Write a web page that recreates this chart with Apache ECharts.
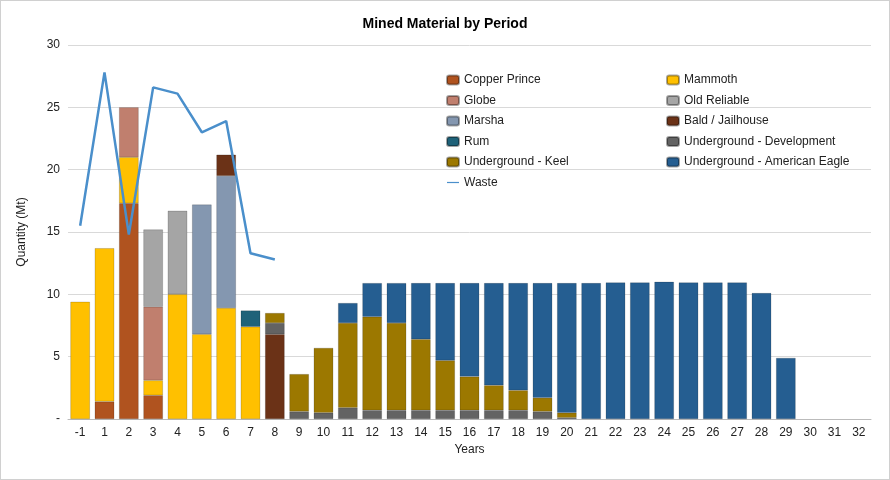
<!DOCTYPE html>
<html><head><meta charset="utf-8">
<script src="https://cdn.jsdelivr.net/npm/echarts@6/dist/echarts.min.js"></script>
<style>html,body{margin:0;padding:0;background:#fff}#c{width:888px;height:478px;border:1px solid #d0d0d0}</style>
</head><body><div id="c"></div>
<script>
const categories=['-1','1','2','3','4','5','6','7','8','9','10','11','12','13','14','15','16','17','18','19','20','21','22','23','24','25','26','27','28','29','30','31','32'];
const copperPrince=[0,1.4,17.3,1.9,0,0,0,0,0,0,0,0,0,0,0,0,0,0,0,0,0,0,0,0,0,0,0,0,0,0,0,0,0];
const mammoth=[9.4,12.3,3.7,1.2,10.0,6.8,8.9,7.4,0,0,0,0,0,0,0,0,0,0,0,0,0,0,0,0,0,0,0,0,0,0,0,0,0];
const globe=[0,0,4.0,5.9,0,0,0,0,0,0,0,0,0,0,0,0,0,0,0,0,0,0,0,0,0,0,0,0,0,0,0,0,0];
const oldReliable=[0,0,0,6.2,6.7,0,0,0,0,0,0,0,0,0,0,0,0,0,0,0,0,0,0,0,0,0,0,0,0,0,0,0,0];
const marsha=[0,0,0,0,0,10.4,10.6,0,0,0,0,0,0,0,0,0,0,0,0,0,0,0,0,0,0,0,0,0,0,0,0,0,0];
const bald=[0,0,0,0,0,0,1.7,0,6.8,0,0,0,0,0,0,0,0,0,0,0,0,0,0,0,0,0,0,0,0,0,0,0,0];
const rum=[0,0,0,0,0,0,0,1.3,0,0,0,0,0,0,0,0,0,0,0,0,0,0,0,0,0,0,0,0,0,0,0,0,0];
const ugDev=[0,0,0,0,0,0,0,0,0.9,0.6,0.5,0.9,0.7,0.7,0.7,0.7,0.7,0.7,0.7,0.6,0.1,0,0,0,0,0,0,0,0,0,0,0,0];
const ugKeel=[0,0,0,0,0,0,0,0,0.8,3.0,5.2,6.8,7.5,7.0,5.7,4.0,2.7,2.0,1.6,1.1,0.4,0,0,0,0,0,0,0,0,0,0,0,0];
const ugAE=[0,0,0,0,0,0,0,0,0,0,0,1.6,2.7,3.2,4.5,6.2,7.5,8.2,8.6,9.2,10.4,10.9,10.95,10.95,11.0,10.95,10.95,10.95,10.1,4.9,0,0,0];
const waste=[15.5,27.8,14.8,26.6,26.1,23.0,23.9,13.3,12.8];
const yTicks=['-','5','10','15','20','25','30'];

const ch=echarts.init(document.getElementById('c'));
function bar(name,data,color){return {name,type:'bar',stack:'s',data:data.map(v=>v===0?null:v),barWidth:'80%',itemStyle:{color,borderColor:'rgba(0,0,0,0.35)',borderWidth:0.5}};}
const series=[
 bar('Copper Prince',copperPrince,'#B0531F'),
 bar('Mammoth',mammoth,'#FFC000'),
 bar('Globe',globe,'#C07F6E'),
 bar('Old Reliable',oldReliable,'#A5A5A5'),
 bar('Marsha',marsha,'#8497B0'),
 bar('Bald / Jailhouse',bald,'#6B3217'),
 bar('Rum',rum,'#1F6279'),
 bar('Underground - Development',ugDev,'#636363'),
 bar('Underground - Keel',ugKeel,'#9C7800'),
 bar('Underground - American Eagle',ugAE,'#255E91'),
 {name:'Waste',type:'line',data:waste,symbol:'none',lineStyle:{color:'#4A8FCB',width:2.5},itemStyle:{color:'#4A8FCB'}}
];
const lg={orient:'vertical',itemGap:8.5,itemWidth:12,itemHeight:9,textStyle:{fontFamily:'Liberation Sans',fontSize:12,color:'#222'}};
ch.setOption({
 animation:false,
 title:{text:'Mined Material by Period',left:'center',top:11,textStyle:{fontFamily:'Liberation Sans',fontSize:14,fontWeight:'bold',color:'#000'}},
 legend:[
  Object.assign({left:440,top:68,data:['Copper Prince','Globe','Marsha','Rum','Underground - Keel',{name:'Waste',icon:'path://M0,4h20v2h-20z'}]},lg),
  Object.assign({left:660,top:68,data:['Mammoth','Old Reliable','Bald / Jailhouse','Underground - Development','Underground - American Eagle']},lg)
 ],
 grid:{left:67,right:18,top:44,bottom:60},
 xAxis:{type:'category',data:categories,name:'Years',nameLocation:'middle',nameGap:25,nameTextStyle:{fontFamily:'Liberation Sans',fontSize:12,color:'#222'},axisTick:{show:false},axisLine:{lineStyle:{color:'#bbb'}},axisLabel:{fontFamily:'Liberation Sans',fontSize:12,color:'#222'}},
 yAxis:{type:'value',min:0,max:30,interval:5,name:'Quantity (Mt)',nameLocation:'middle',nameGap:40,nameTextStyle:{fontFamily:'Liberation Sans',fontSize:12,color:'#222'},axisLabel:{fontFamily:'Liberation Sans',fontSize:12,color:'#222',formatter:v=>yTicks[v/5]},splitLine:{lineStyle:{color:'#d9d9d9'}},axisLine:{show:false}},
 series
});
</script></body></html>
